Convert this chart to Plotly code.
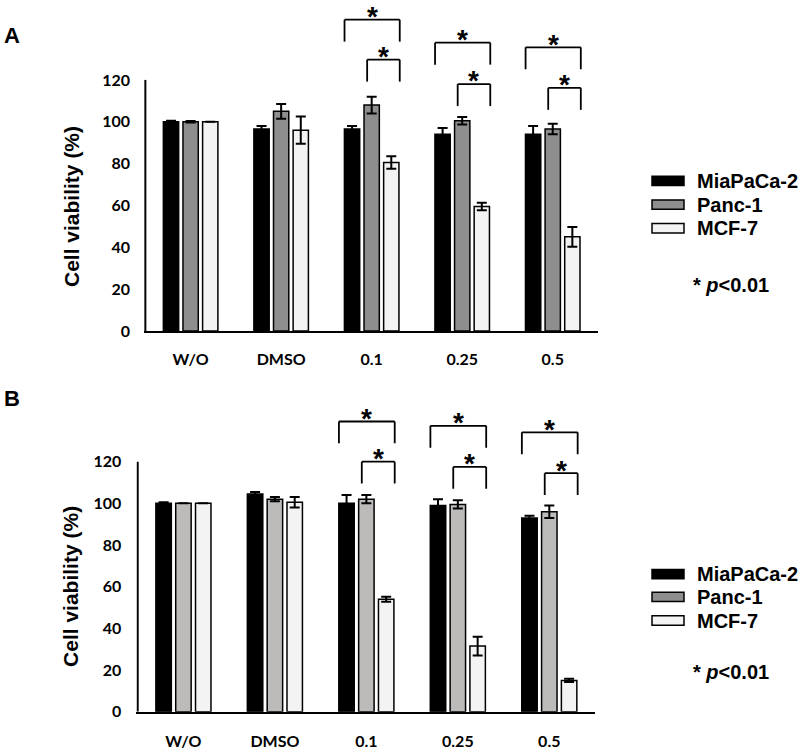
import plotly.graph_objects as go

# ---- data ----
doses = ["W/O", "DMSO", "0.1", "0.25", "0.5"]
lines = ["MiaPaCa-2", "Panc-1", "MCF-7"]

a_mia = [100, 96.5, 96.5, 94, 94]
a_mia_err = [0.5, 1.5, 1.5, 3, 4]
a_panc = [100, 105, 108, 100.5, 96.5]
a_panc_err = [0.4, 3.5, 4, 1.8, 2.5]
a_mcf = [100, 96, 80.5, 59.5, 45]
a_mcf_err = [0, 6.5, 3, 1.8, 4.7]

b_mia = [100, 104.5, 100, 99, 93]
b_mia_err = [0.5, 1, 4, 3, 1]
b_panc = [100, 102, 102, 99.5, 96]
b_panc_err = [0, 1, 2, 2, 3]
b_mcf = [100, 100.5, 54, 31.5, 15]
b_mcf_err = [0, 2.5, 1.2, 4.5, 0.8]

# significance brackets: group index, outer level, inner level
sig_groups = [2, 3, 4]
a_outer = [148.8, 137.8, 135.6]
a_inner = [129.7, 118, 116.2]
b_outer = [139.3, 137.2, 134.1]
b_inner = [120, 117.5, 114.5]

yticks = [0, 20, 40, 60, 80, 100, 120]

# ---- styling ----
black = "#000000"
grey_a = "#8e8e8e"
grey_b = "#bdbaba"
white = "#f3f3f3"
tickfont = dict(family="Lato", size=16, color="black", weight="bold")
bold = dict(family="Liberation Sans, Arial", color="black", weight="bold")

fig = go.Figure()

panels = [
    dict(ax="", vals=[a_mia, a_panc, a_mcf], errs=[a_mia_err, a_panc_err, a_mcf_err],
         cols=[black, grey_a, white], outer=a_outer, inner=a_inner),
    dict(ax="2", vals=[b_mia, b_panc, b_mcf], errs=[b_mia_err, b_panc_err, b_mcf_err],
         cols=[black, grey_b, white], outer=b_outer, inner=b_inner),
]

for p in panels:
    for name, v, e, c in zip(lines, p["vals"], p["errs"], p["cols"]):
        fig.add_trace(go.Bar(
            x=doses, y=v, name=name, showlegend=False,
            marker=dict(color=c, line=dict(color="black", width=1.5)),
            error_y=dict(type="data", array=e, color="black", thickness=2, width=5),
            xaxis="x" + p["ax"], yaxis="y" + p["ax"]))

    xr, yr = "x" + p["ax"], "y" + p["ax"]
    # y axis line, only up to 120
    fig.add_shape(type="line", xref=xr, yref=yr, x0=-0.5, x1=-0.5, y0=0, y1=yticks[-1],
                  line=dict(color="black", width=2))
    # brackets + stars
    for g, yo, yi in zip(sig_groups, p["outer"], p["inner"]):
        for lvl, left in [(yo, -0.30), (yi, -0.05)]:
            x0, x1 = g + left, g + 0.31
            drop = 10.5
            fig.add_shape(type="line", xref=xr, yref=yr, x0=x0, x1=x1, y0=lvl, y1=lvl,
                          line=dict(color="black", width=1.8))
            fig.add_shape(type="line", xref=xr, yref=yr, x0=x0, x1=x0, y0=lvl, y1=lvl - drop,
                          line=dict(color="black", width=1.8))
            fig.add_shape(type="line", xref=xr, yref=yr, x0=x1, x1=x1, y0=lvl, y1=lvl - drop,
                          line=dict(color="black", width=1.8))
            fig.add_annotation(xref=xr, yref=yr, x=(x0 + x1) / 2, y=lvl + 1.5, text="*",
                               showarrow=False, xanchor="center", yanchor="middle",
                               font=dict(bold, size=28))

axis_common = dict(showgrid=False, zeroline=False)
fig.update_layout(
    width=800, height=755, margin=dict(l=0, r=0, t=0, b=0),
    plot_bgcolor="white", paper_bgcolor="white",
    barmode="group", bargap=0.35, bargroupgap=0.22,
    xaxis=dict(axis_common, domain=[0.18, 0.7475], anchor="y", range=[-0.515, 4.5],
               showline=True, linecolor="black", linewidth=2, ticks="",
               tickfont=tickfont, ticklabelstandoff=13),
    yaxis=dict(axis_common, domain=[0.5563, 1.0], anchor="x", range=[0, 158.2],
               tickvals=yticks, ticks="", showline=False, tickfont=tickfont,
               ticklabelstandoff=13),
    xaxis2=dict(axis_common, domain=[0.1704, 0.7438], anchor="y2", range=[-0.515, 4.5],
                showline=True, linecolor="black", linewidth=2, ticks="",
                tickfont=tickfont, ticklabelstandoff=14),
    yaxis2=dict(axis_common, domain=[0.046, 0.4702], anchor="x2", range=[0, 151.9],
                tickvals=yticks, ticks="", showline=False, tickfont=tickfont,
                ticklabelstandoff=14),
)

def px(x, y):
    # pixel position on the 800x755 page -> paper coords
    return x / 800, 1 - y / 755

# panel letters and y titles
for letter, ypx in [("A", 36), ("B", 403)]:
    x, y = px(11.7, ypx)
    fig.add_annotation(xref="paper", yref="paper", x=x, y=y, xanchor="center", yanchor="middle",
                       text=letter, showarrow=False, font=dict(bold, size=22))
for ypx in [209.5, 594]:
    x, y = px(71, ypx)
    fig.add_annotation(xref="paper", yref="paper", x=x, y=y, xanchor="center", yanchor="middle",
                       text="Cell viability (%)", textangle=-90, showarrow=False,
                       font=dict(bold, size=21))

# hand drawn legends (wide flat swatches like the original)
legend_rows = [[183, 207, 231], [581, 604, 628]]
pval_y = [288, 680]
for rows, py in zip(legend_rows, pval_y):
    for name, c, ypx in zip(lines, [black, grey_a, white], rows):
        x0, y0 = px(652, ypx - 4.7)
        x1, y1 = px(684, ypx + 4.7)
        fig.add_shape(type="rect", xref="paper", yref="paper", x0=x0, x1=x1, y0=y0, y1=y1,
                      fillcolor=c, line=dict(color="black", width=1.5))
        x, y = px(695, ypx)
        fig.add_annotation(xref="paper", yref="paper", x=x, y=y, xanchor="left", yanchor="middle",
                           text=name, showarrow=False, font=dict(bold, size=20))
    x, y = px(691, py)
    fig.add_annotation(xref="paper", yref="paper", x=x, y=y, xanchor="left", yanchor="middle",
                       text="* <i>p</i><0.01", showarrow=False, font=dict(bold, size=20))

fig.write_html("out.html", config={"displayModeBar": False},
               post_script="document.body.style.margin='0';")
